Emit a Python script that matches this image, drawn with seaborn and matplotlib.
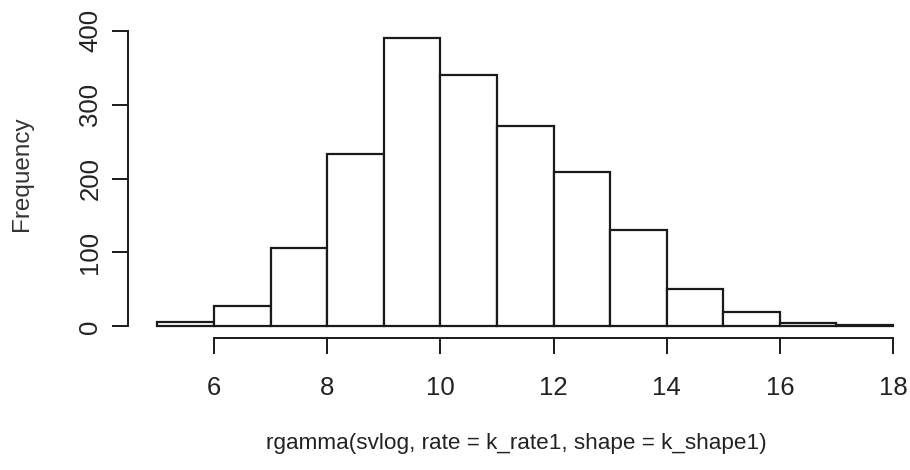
import matplotlib
matplotlib.use("Agg")
import matplotlib.pyplot as plt
import seaborn as sns
import numpy as np

# Data
bin_edges = [5, 6, 7, 8, 9, 10, 11, 12, 13, 14, 15, 16, 17, 18]
counts = [6, 27, 106, 233, 390, 340, 271, 209, 131, 51, 19, 5, 2]
x_ticks = [6, 8, 10, 12, 14, 16, 18]
y_ticks = [0, 100, 200, 300, 400]
x_label = "rgamma(svlog, rate = k_rate1, shape = k_shape1)"
y_label = "Frequency"

sns.set_theme(style="white")
plt.rcParams['font.family'] = ['Liberation Sans', 'DejaVu Sans']

mids = [(a + b) / 2 for a, b in zip(bin_edges[:-1], bin_edges[1:])]

fig = plt.figure(figsize=(9.1, 4.7), dpi=100)
W, H = 910, 470
left, right, top, bottom = 128, 910, 25, 338
ax = fig.add_axes([left / W, 1 - bottom / H, (right - left) / W, (bottom - top) / H])

sns.histplot(x=mids, weights=counts, bins=bin_edges, ax=ax,
             color="white", edgecolor="#1a1a1a", linewidth=1.6, alpha=1)

ax.set_xlim(4.48, 18.3)
ax.set_ylim(-15.7, 407.7)

for s in ["top", "right"]:
    ax.spines[s].set_visible(False)
ax.spines["left"].set_bounds(0, 400)
ax.spines["bottom"].set_bounds(6, 18)
for s in ["left", "bottom"]:
    ax.spines[s].set_color("#1a1a1a")
    ax.spines[s].set_linewidth(1.4)

ax.set_xticks(x_ticks)
ax.set_yticks(y_ticks)
ax.set_yticklabels([str(v) for v in y_ticks], rotation=90, va="center")
ax.tick_params(axis="both", length=11.5, width=1.4, color="#1a1a1a",
               labelsize=18.5, labelcolor="#222222", direction="out",
               bottom=True, left=True)
ax.tick_params(axis="x", pad=16)
ax.tick_params(axis="y", pad=7)

ax.set_xlabel(x_label, fontsize=16.2, color="#222222", va="center")
ax.set_ylabel(y_label, fontsize=17.5, color="#333333", va="center")
ax.xaxis.set_label_coords(0.5 - 3 / 782, (338 - 443) / 313)
ax.yaxis.set_label_coords((22 - 128) / 782, (338 - 174) / 313)
ax.grid(False)

fig.savefig("out.png", dpi=100)
